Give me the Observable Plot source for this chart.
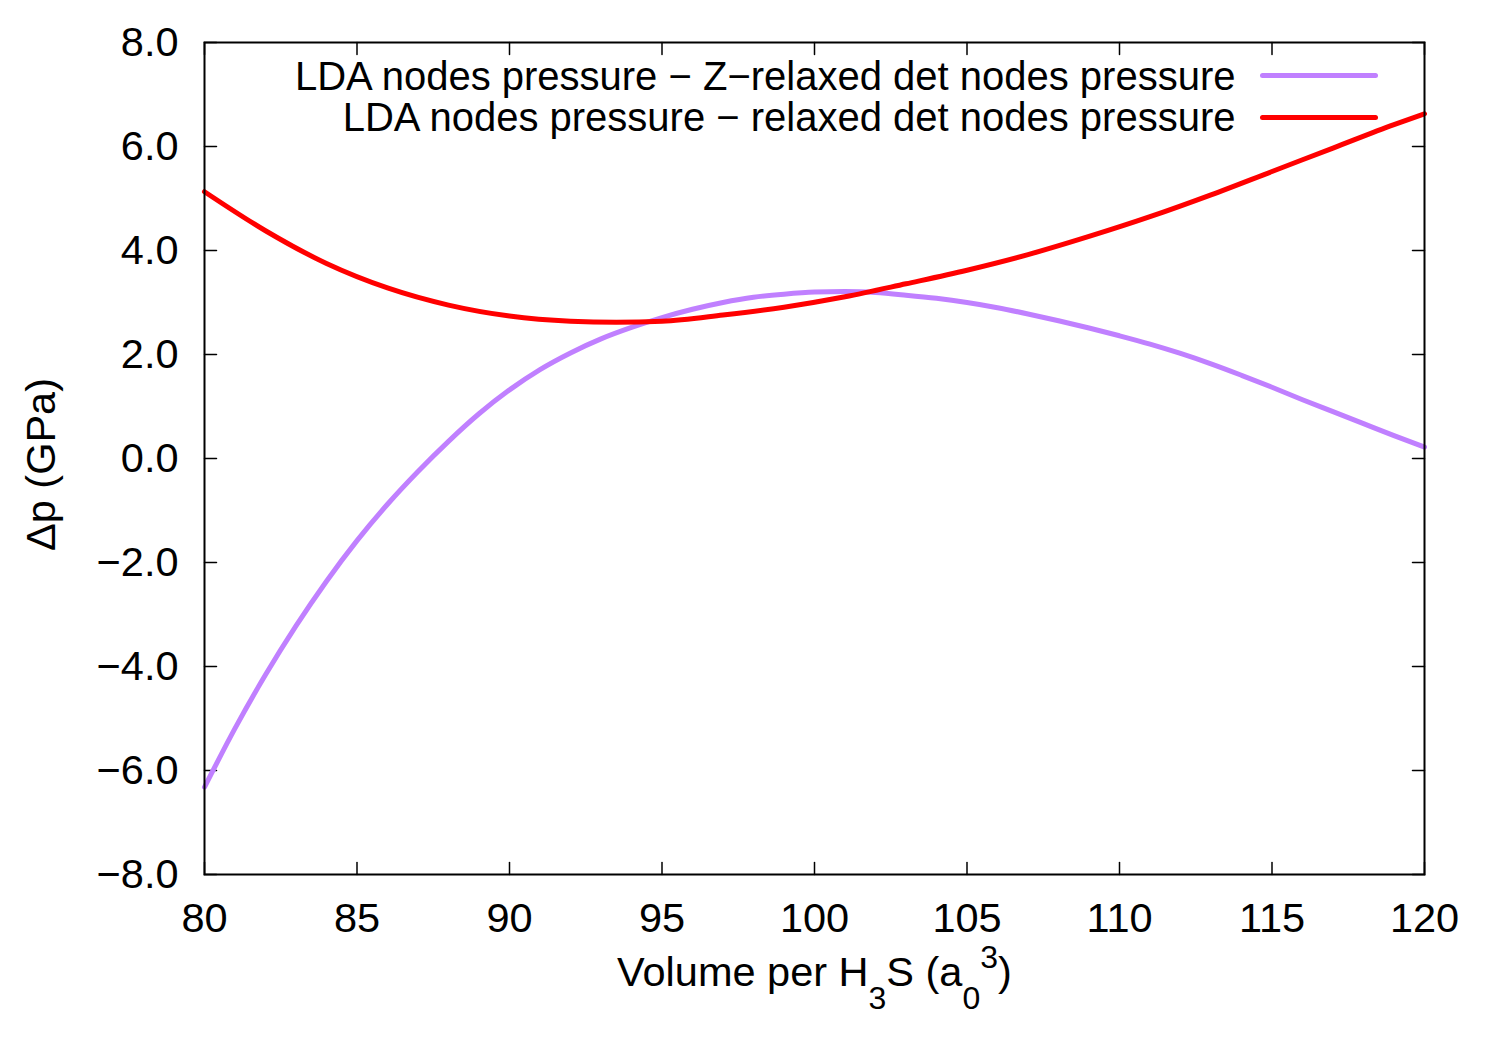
<!DOCTYPE html>
<html>
<head>
<meta charset="utf-8">
<script src="https://cdn.jsdelivr.net/npm/d3@7"></script>
<script src="https://cdn.jsdelivr.net/npm/@observablehq/plot@0.6"></script>
<style>
  html, body { margin: 0; padding: 0; background: #fff; }
  #chart svg { display: block; }
</style>
</head>
<body>
<div id="chart"></div>
<script>
// ---- Data ----
const volumesZ = [80, 81, 82, 83, 84, 85, 86, 87, 88, 89, 90, 91, 92, 93, 94, 95, 96, 97, 98, 99, 100, 101, 102, 103, 104, 105, 106, 107, 108, 109, 110, 111, 112, 113, 114, 115, 116, 117, 118, 119, 120];
const dpZ      = [-6.32, -5.19, -4.16, -3.22, -2.36, -1.58, -0.88, -0.25, 0.33, 0.86, 1.32, 1.71, 2.03, 2.30, 2.52, 2.71, 2.87, 3.00, 3.10, 3.16, 3.20, 3.21, 3.19, 3.14, 3.08, 3.00, 2.90, 2.78, 2.65, 2.51, 2.36, 2.20, 2.02, 1.82, 1.60, 1.37, 1.13, 0.90, 0.67, 0.44, 0.22];

const volumesR = [80, 82, 84, 86, 88, 90, 92, 93.5, 95, 97, 99, 101, 103, 105, 107, 109, 111, 113, 115, 117, 119, 120];
const dpR      = [5.13, 4.38, 3.75, 3.28, 2.95, 2.74, 2.64, 2.62, 2.64, 2.76, 2.91, 3.11, 3.36, 3.62, 3.92, 4.27, 4.65, 5.07, 5.52, 5.97, 6.42, 6.63];

const seriesNames  = ["LDA nodes pressure \u2212 Z\u2212relaxed det nodes pressure",
                      "LDA nodes pressure \u2212 relaxed det nodes pressure"];
const seriesColors = ["#c080ff", "#ff0000"];

const xTicks = [80, 85, 90, 95, 100, 105, 110, 115, 120];
const yTicks = [-8, -6, -4, -2, 0, 2, 4, 6, 8];

const yLabel = "\u0394p (GPa)";
// x label pieces: [text, kind] kind: "" normal, "sub", "sup"
const xLabelParts = [["Volume per H", ""], ["3", "sub"], ["S (a", ""], ["0", "sub"], ["3", "sup"], [")", ""]];
const xLabel = xLabelParts.map(d => d[0]).join("");

// ---- Build table ----
const rows = [
  ...volumesZ.map((v, i) => ({v, p: dpZ[i], s: seriesNames[0]})),
  ...volumesR.map((v, i) => ({v, p: dpR[i], s: seriesNames[1]}))
];

const FONT = 41.5;
const LEGEND_FONT = 40;
const tickShape = {draw(ctx, l) { ctx.moveTo(0, 0); ctx.lineTo(0, -l); }};
const tickOpts = {length: 12, anchor: "start", shape: tickShape, stroke: "black", strokeWidth: 1.5};

const chart = Plot.plot({
  width: 1500,
  height: 1050,
  marginLeft: 204,
  marginRight: 76,
  marginTop: 42,
  marginBottom: 176,
  style: {fontFamily: "'Liberation Sans', Arial, Helvetica, sans-serif", background: "#fff", color: "black"},
  x: {domain: [80, 120], label: null},
  y: {domain: [-8, 8], label: null},
  color: {domain: seriesNames, range: seriesColors},
  marks: [
    // tick labels
    Plot.axisX(xTicks, {tickSize: 0, tickPadding: 28, fontSize: FONT, label: null, tickFormat: d3.format("d")}),
    Plot.axisY(yTicks, {tickSize: 0, tickPadding: 26, fontSize: FONT, label: null, tickFormat: d3.format(".1f")}),
    // inward ticks on all four sides
    Plot.vector(xTicks, {x: d => d, frameAnchor: "bottom", rotate: 0, ...tickOpts}),
    Plot.vector(xTicks, {x: d => d, frameAnchor: "top", rotate: 180, ...tickOpts}),
    Plot.vector(yTicks, {y: d => d, frameAnchor: "left", rotate: 90, ...tickOpts}),
    Plot.vector(yTicks, {y: d => d, frameAnchor: "right", rotate: -90, ...tickOpts}),
    // data
    Plot.line(rows, {x: "v", y: "p", z: "s", stroke: "s", strokeWidth: 5, curve: "monotone-x"}),
    // frame
    Plot.frame({stroke: "black", strokeWidth: 2}),
    // legend
    Plot.text([seriesNames[0]], {text: d => d, frameAnchor: "top-right", dx: -189, dy: 47, textAnchor: "end", lineAnchor: "bottom", fontSize: LEGEND_FONT, fill: "black"}),
    Plot.text([seriesNames[1]], {text: d => d, frameAnchor: "top-right", dx: -189, dy: 88, textAnchor: "end", lineAnchor: "bottom", fontSize: LEGEND_FONT, fill: "black"}),
    Plot.vector([seriesNames[0]], {frameAnchor: "top-right", dx: -162, dy: 33, rotate: 90, length: 113, anchor: "start", shape: tickShape, stroke: seriesColors[0], strokeWidth: 5}),
    Plot.vector([seriesNames[1]], {frameAnchor: "top-right", dx: -162, dy: 75, rotate: 90, length: 113, anchor: "start", shape: tickShape, stroke: seriesColors[1], strokeWidth: 5}),
    // axis titles
    Plot.text([yLabel], {text: d => d, frameAnchor: "left", textAnchor: "middle", rotate: -90, dx: -163, dy: 6, fontSize: FONT, fill: "black"}),
    Plot.text([xLabel], {text: d => d, frameAnchor: "bottom", textAnchor: "middle", dy: 111, lineAnchor: "bottom", fontSize: FONT, fill: "black"})
  ]
});

// Rich text for the x label (subscripts / superscript)
const shifts = {sub: 23, sup: -18};
chart.querySelectorAll("text").forEach(t => {
  if (t.textContent === xLabel) {
    const sel = d3.select(t);
    sel.text(null);
    let cur = 0;
    xLabelParts.forEach(([txt, kind]) => {
      const target = kind ? shifts[kind] : 0;
      const ts = sel.append("tspan").text(txt).attr("dy", target - cur);
      if (kind) ts.attr("font-size", 32);
      cur = target;
    });
  }
});

document.getElementById("chart").appendChild(chart);
</script>
</body>
</html>
